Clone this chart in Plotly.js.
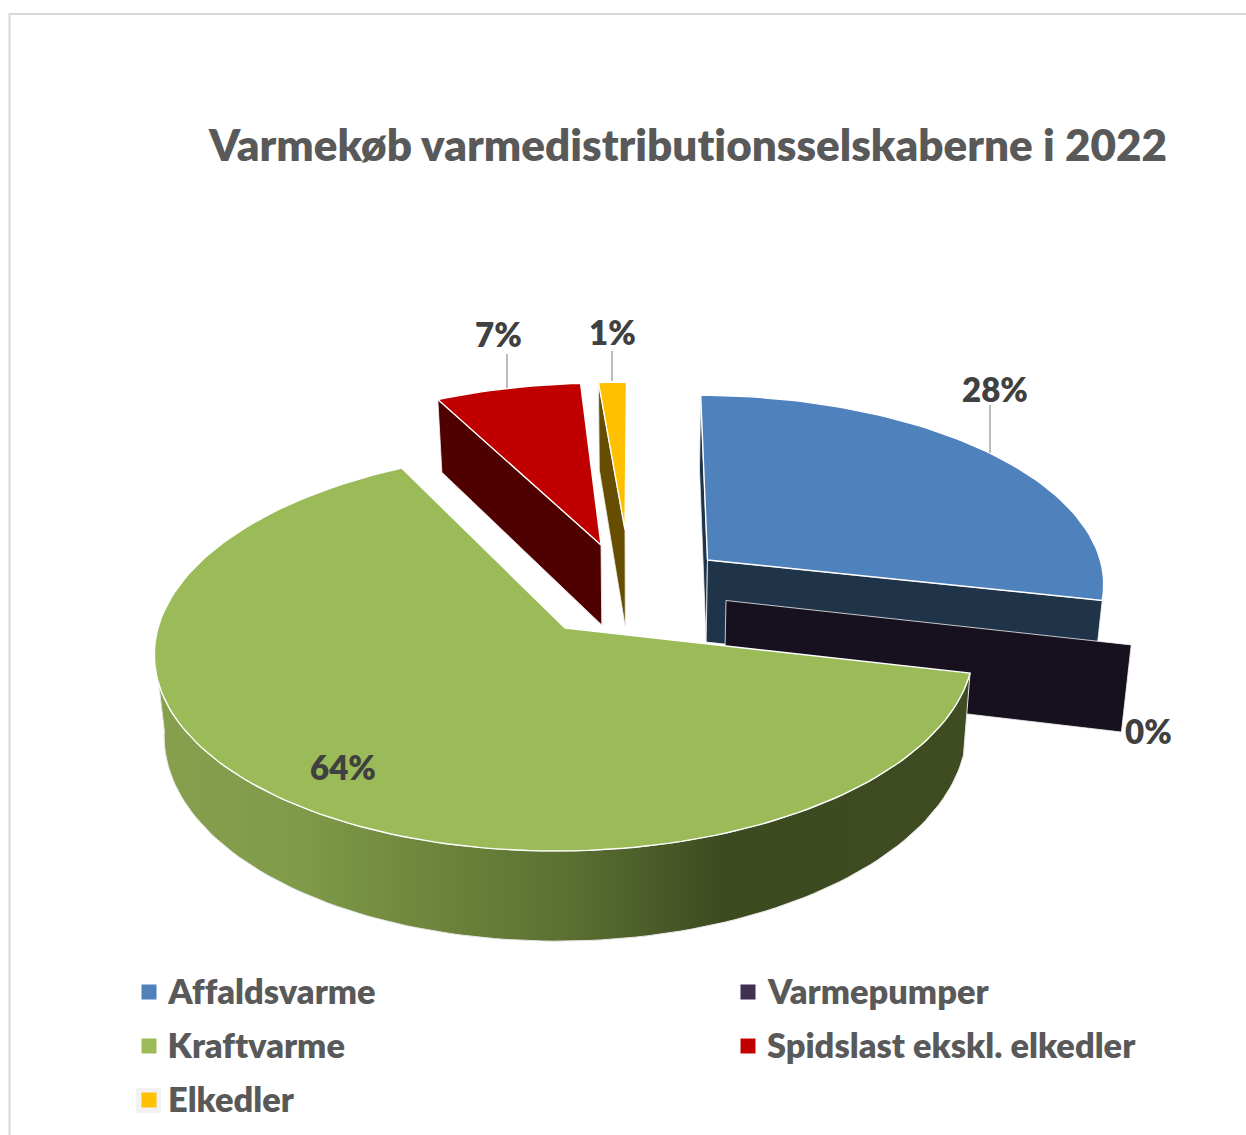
<!DOCTYPE html>
<html>
<head>
<meta charset="utf-8">
<script src="https://cdn.plot.ly/plotly-3.0.1.min.js"></script>
<style>html,body{margin:0;padding:0;background:#fff}#c{width:1246px;height:1135px}#c text{font-variant-ligatures:none;font-feature-settings:"liga" 0,"clig" 0,"dlig" 0;letter-spacing:0.01px}</style>
</head>
<body>
<div id="c"></div>
<script>
// ---- data ----
const chartTitle = 'Varmekøb varmedistributionsselskaberne i 2022';
const categories = ['Affaldsvarme', 'Varmepumper', 'Kraftvarme', 'Spidslast ekskl. elkedler', 'Elkedler'];
const shares = [28.45, 0.12, 63.83, 6.52, 1.08];

// ---- styles ----
const topColors  = ['#4f81bd', '#17111f', '#9bbb59', '#c00000', '#ffc000'];
const wallColors = ['#1f3349', '#17111f', '#3f4c21', '#4f0000', '#664d00'];
const legendColors = ['#4f81bd', '#403152', '#9bbb59', '#c00000', '#ffc000'];
const textGrey = '#595959', labelGrey = '#404040';
const FONT = 'Lato, "Open Sans", sans-serif';
const WEIGHT = 800;

// ---- layout of the exploded 3D pie, one entry per slice ----
const apexX = [707.5, 726, 565, 601, 625];
const apexY = [560, 600.5, 628, 545, 530];
const scaleX = [0.965, 0.99, 1, 0.98, 1.13];
const scaleY = [0.925, 1, 1, 0.91, 0.83];
const depth  = [82, 85, 80, 80, 97];
const A = 407, B = 198, K = 0.1122, VX = 640, BOTTOM_SHRINK = 0.98;

// angular extent of each slice, clockwise from the top, from the shares
const total = shares.reduce((a, b) => a + b, 0);
let running = 0;
const starts = [], ends = [];
shares.forEach(s => { starts.push(running / total * 360); running += s; ends.push(running / total * 360); });

function proj(i, deg, r, low) {
  const t = deg * Math.PI / 180, u = r * Math.sin(t), v = r * Math.cos(t), d = 1 + K * v;
  let x = VX + (apexX[i] - VX + A * scaleX[i] * u) / d;
  let y = apexY[i] - B * scaleY[i] * v / d;
  if (low) { x = VX + (x - VX) * BOTTOM_SHRINK; y += depth[i] / d; }
  return [x, y];
}
function arc(i, a, b, low) {
  const n = Math.max(2, Math.ceil(Math.abs(b - a) / 1.5)), out = [];
  for (let k = 0; k <= n; k++) out.push(proj(i, a + (b - a) * k / n, 1, low));
  return out;
}
function poly(pts, fill, extra) {
  const closed = pts.concat([pts[0]]);
  return Object.assign({
    type: 'scatter', mode: 'lines', x: closed.map(p => p[0]), y: closed.map(p => p[1]),
    fill: 'toself', fillcolor: fill, line: { color: '#ffffff', width: 1.4 },
    hoverinfo: 'skip', showlegend: false
  }, extra || {});
}
function wall(i, deg, color) {
  return poly([proj(i, 0, 0, false), proj(i, deg, 1, false), proj(i, deg, 1, true), proj(i, 0, 0, true)], color,
    { line: { color: '#f2f2f2', width: 0.8 } });
}
function topFace(i) {
  return poly([proj(i, 0, 0, false)].concat(arc(i, starts[i], ends[i], false)), topColors[i]);
}

const traces = [];
// Affaldsvarme
traces.push(wall(0, starts[0], wallColors[0]));
traces.push(wall(0, ends[0], wallColors[0]));
traces.push(topFace(0));
// Varmepumper: nearly zero wedge, only its wall shows
traces.push(wall(1, (starts[1] + ends[1]) / 2, wallColors[1]));
// Spidslast
traces.push(wall(3, starts[3], wallColors[3]));
traces.push(topFace(3));
// Elkedler
traces.push(wall(4, starts[4], wallColors[4]));
traces.push(topFace(4));
// Kraftvarme rim with gradient, then top
const rimEnd = 264;
traces.push(poly(arc(2, starts[2], rimEnd, false).concat(arc(2, rimEnd, starts[2], true)), '#3f4c21', {
  line: { color: '#e6e6e6', width: 1 },
  fillgradient: { type: 'horizontal', start: 155, stop: 972, colorscale: [
    [0, '#86a04e'], [0.18, '#7f9a49'], [0.35, '#6c843c'], [0.5, '#5c7132'], [0.7, '#3c4a20'], [1, '#3f4c21']
  ] }
}));
traces.push(topFace(2));

// legend markers
const legendX = [149, 748, 149, 748, 149];
const legendY = [992, 992, 1046, 1046, 1100];
traces.push({
  type: 'scatter', mode: 'markers', x: legendX, y: legendY,
  marker: { symbol: 'square', size: 15, color: legendColors, line: { width: 0 } },
  hoverinfo: 'skip', showlegend: false
});

// annotations: legend text + data labels
const labelX = [995, 1148, 343, 498, 612];
const labelY = [389, 731, 767, 334, 332];
const annotations = categories.map((c, i) => ({
  x: legendX[i] + 17, y: legendY[i] - 2, xref: 'x', yref: 'y', text: c, showarrow: false, xanchor: 'left', yanchor: 'middle',
  font: { family: FONT, size: 34.4, color: textGrey, weight: WEIGHT }
})).concat(shares.map((s, i) => ({
  x: labelX[i], y: labelY[i], xref: 'x', yref: 'y', text: Math.round(s) + '%', showarrow: false,
  xanchor: 'center', yanchor: 'middle',
  font: { family: FONT, size: 33, color: labelGrey, weight: WEIGHT }
})));

const leaders = [[990, 405, 990, 453], [507, 354, 507, 388], [612, 351, 612, 381]];
const shapes = leaders.map(l => ({ type: 'line', xref: 'x', yref: 'y', x0: l[0], y0: l[1], x1: l[2], y1: l[3], line: { color: '#a6a6a6', width: 1.5 } }));
shapes.push({ type: 'path', xref: 'x', yref: 'y', path: 'M 9.5 1135 L 9.5 14 L 1246 14', line: { color: '#d9d9d9', width: 2 } });
shapes.push({ type: 'rect', xref: 'x', yref: 'y', x0: 136, y0: 1088, x1: 161, y1: 1113, fillcolor: '#f2f2f2', line: { width: 0 }, layer: 'below' });

Plotly.newPlot('c', traces, {
  width: 1246, height: 1135,
  margin: { l: 0, r: 0, t: 0, b: 0 },
  paper_bgcolor: '#ffffff', plot_bgcolor: '#ffffff',
  showlegend: false,
  title: { text: chartTitle, x: 688 / 1246, xanchor: 'center', y: 1 - 146 / 1135, yanchor: 'middle',
           font: { family: FONT, size: 44, color: textGrey, weight: WEIGHT } },
  xaxis: { range: [0, 1246], visible: false, fixedrange: true },
  yaxis: { range: [1135, 0], visible: false, fixedrange: true },
  annotations: annotations, shapes: shapes
}, { displayModeBar: false, staticPlot: true });
</script>
</body>
</html>
